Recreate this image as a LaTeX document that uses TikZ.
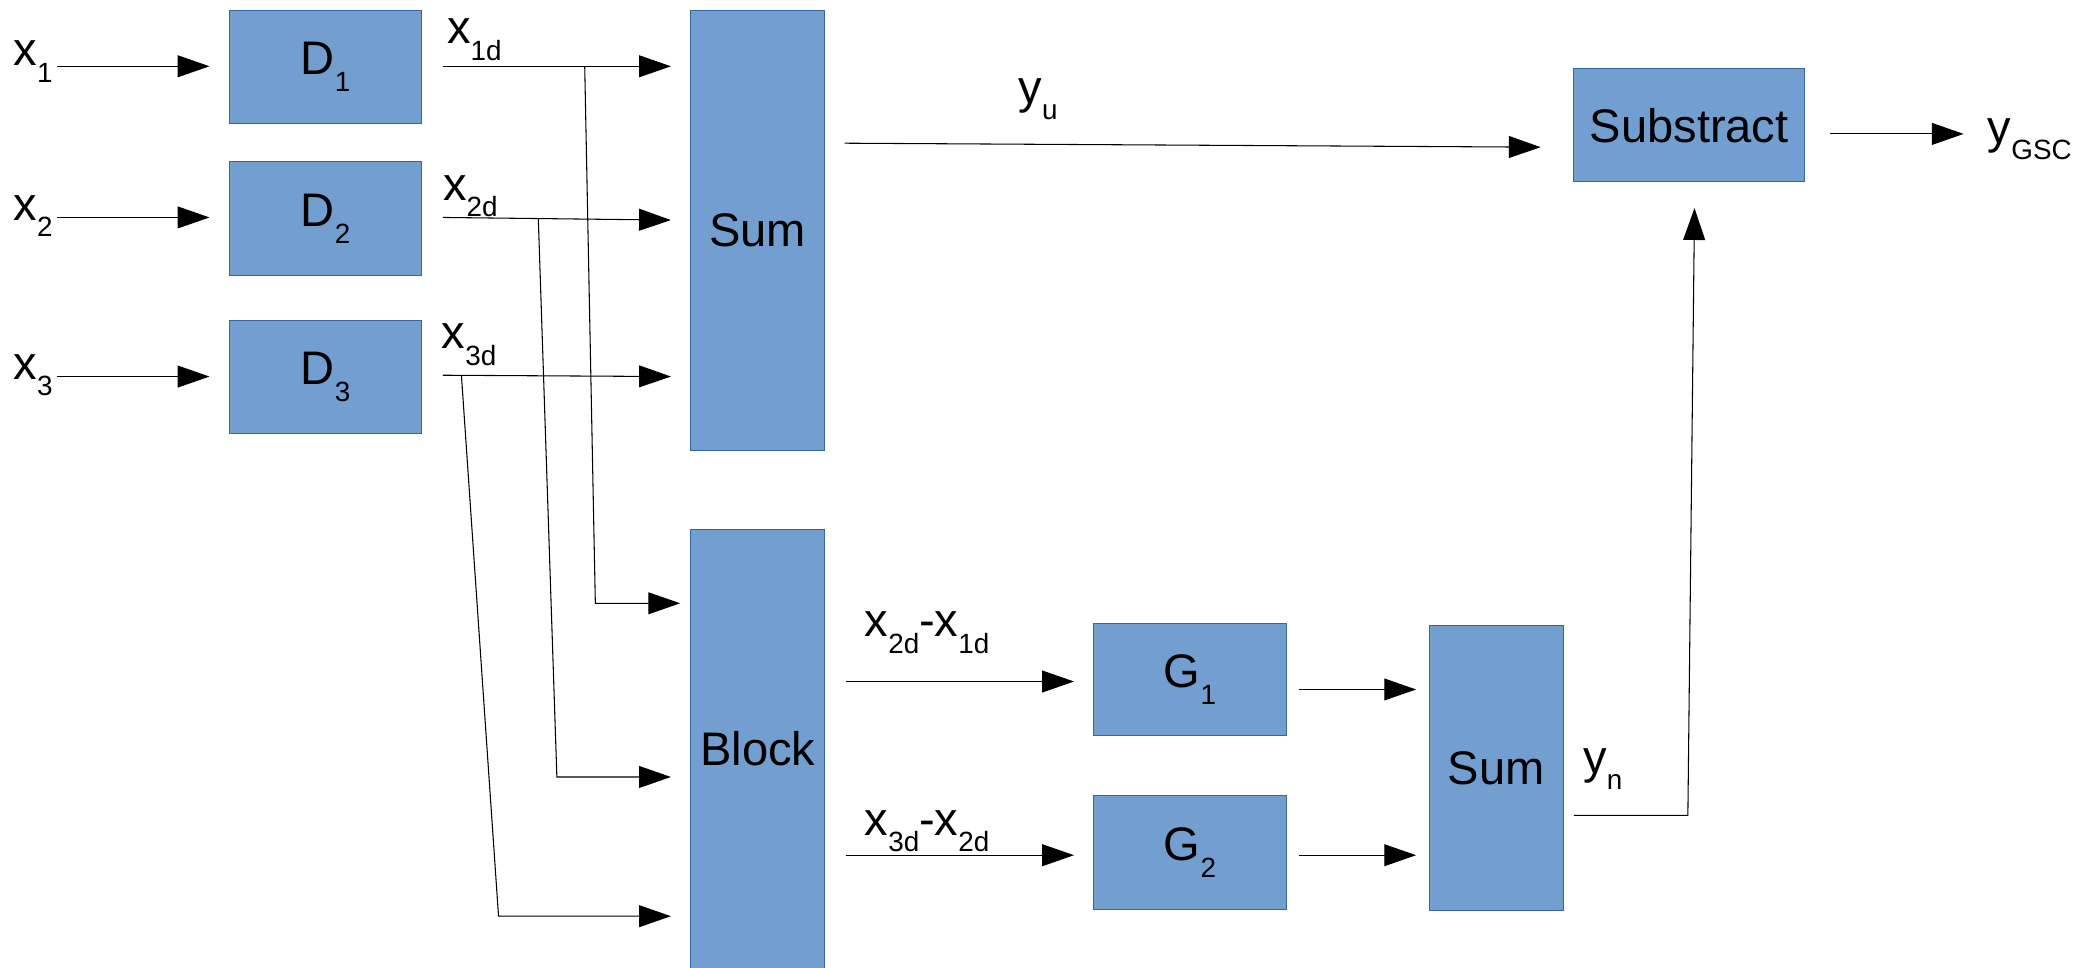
\documentclass[tikz,border=0pt]{standalone}
\usepackage{fontspec}
\setmainfont{Liberation Sans}
\usetikzlibrary{arrows.meta}
\definecolor{boxfill}{HTML}{729FCF}
\definecolor{boxedge}{HTML}{3465A4}
\newcommand\lsub[1]{\raisebox{-12.5pt}{\fontsize{21}{21}\selectfont #1}}
\tikzset{
  blk/.style={draw=boxedge, fill=boxfill, line width=0.8pt, inner sep=0pt,
    font=\fontsize{35.5}{40}\selectfont},
  lbl/.style={inner sep=0pt, anchor=base west, font=\fontsize{35.5}{40}\selectfont},
  txt/.style={inner sep=0pt, font=\fontsize{35.5}{40}\selectfont},
  wire/.style={line width=0.8pt, black},
  arr/.style={wire, -{Triangle[length=24pt,width=16.5pt]}}
}
\begin{document}
\begin{tikzpicture}[x=1pt,y=-1pt]
\useasboundingbox (0,0) rectangle (1568,730);
% boxes
\node[blk, minimum width=145pt, minimum height=85pt] (D1) at (245.5,50.5) {D\lsub{1}};
\node[blk, minimum width=145pt, minimum height=86pt] (D2) at (245.5,165) {D\lsub{2}};
\node[blk, minimum width=145pt, minimum height=85pt] (D3) at (245.5,284.5) {D\lsub{3}};
\node[blk, minimum width=101pt, minimum height=332pt] (S1) at (571.5,174) {Sum};
\node[blk, minimum width=101pt, minimum height=351pt] (B) at (571.5,574.5) {};
\node[txt] (Btxt) at (571.5,565) {Block};
\node[blk, minimum width=145pt, minimum height=85pt] (G1) at (897.5,512.5) {G\lsub{1}};
\node[blk, minimum width=145pt, minimum height=86pt] (G2) at (897.5,643) {G\lsub{2}};
\node[blk, minimum width=101pt, minimum height=215pt] (S2) at (1128.5,579.5) {Sum};
\node[blk, minimum width=174pt, minimum height=85pt] (SB) at (1274,94.5) {Substract};
% labels
\node[lbl] (lx1) at (10,49.5) {x\lsub{1}};
\node[lbl] (lx2) at (10,166) {x\lsub{2}};
\node[lbl] (lx3) at (10,286) {x\lsub{3}};
\node[lbl] (lx1d) at (337,33) {x\lsub{1d}};
\node[lbl] (lx2d) at (334,151) {x\lsub{2d}};
\node[lbl] (lx3d) at (333,263) {x\lsub{3d}};
\node[lbl] (lyu) at (768,78) {y\lsub{u}};
\node[lbl] (lygsc) at (1499,108) {y\lsub{GSC}};
\node[lbl] (lyn) at (1194,583) {y\lsub{n}};
\node[lbl] (ld21) at (652,480) {x\lsub{2d}-x\lsub{1d}};
\node[lbl] (ld32) at (652,630) {x\lsub{3d}-x\lsub{2d}};
% connector points
\coordinate (i1) at (43,50);   \coordinate (i1e) at (158,50);
\coordinate (i2) at (43,164);  \coordinate (i2e) at (158,164);
\coordinate (i3) at (43,284);  \coordinate (i3e) at (158,284);
\coordinate (o1) at (334,50);  \coordinate (o1e) at (506,50);
\coordinate (o2) at (334,164); \coordinate (o2e) at (506,166);
\coordinate (o3) at (334,283); \coordinate (o3e) at (506,284);
\coordinate (b1) at (441,50);  \coordinate (b1d) at (449,455); \coordinate (b1e) at (513,455);
\coordinate (b2) at (406,165); \coordinate (b2d) at (420,586); \coordinate (b2e) at (506,586);
\coordinate (b3) at (348,283); \coordinate (b3d) at (376,691); \coordinate (b3e) at (506,691);
\coordinate (su) at (637,108); \coordinate (sue) at (1162,111);
\coordinate (k1) at (638,514); \coordinate (k1e) at (810,514);
\coordinate (k2) at (638,645); \coordinate (k2e) at (810,645);
\coordinate (g1) at (980,520); \coordinate (g1e) at (1068,520);
\coordinate (g2) at (980,645); \coordinate (g2e) at (1068,645);
\coordinate (n0) at (1187,615); \coordinate (n1) at (1273,615); \coordinate (n2) at (1278,157);
\coordinate (r0) at (1380,101); \coordinate (r1) at (1481,101);
% connectors
\draw[arr] (i1) -- (i1e);
\draw[arr] (i2) -- (i2e);
\draw[arr] (i3) -- (i3e);
\draw[arr] (o1) -- (o1e);
\draw[arr] (o2) -- (o2e);
\draw[arr] (o3) -- (o3e);
\draw[arr] (b1) -- (b1d) -- (b1e);
\draw[arr] (b2) -- (b2d) -- (b2e);
\draw[arr] (b3) -- (b3d) -- (b3e);
\draw[arr] (su) -- (sue);
\draw[arr] (k1) -- (k1e);
\draw[arr] (k2) -- (k2e);
\draw[arr] (g1) -- (g1e);
\draw[arr] (g2) -- (g2e);
\draw[arr] (n0) -- (n1) -- (n2);
\draw[arr] (r0) -- (r1);
\end{tikzpicture}
\end{document}
